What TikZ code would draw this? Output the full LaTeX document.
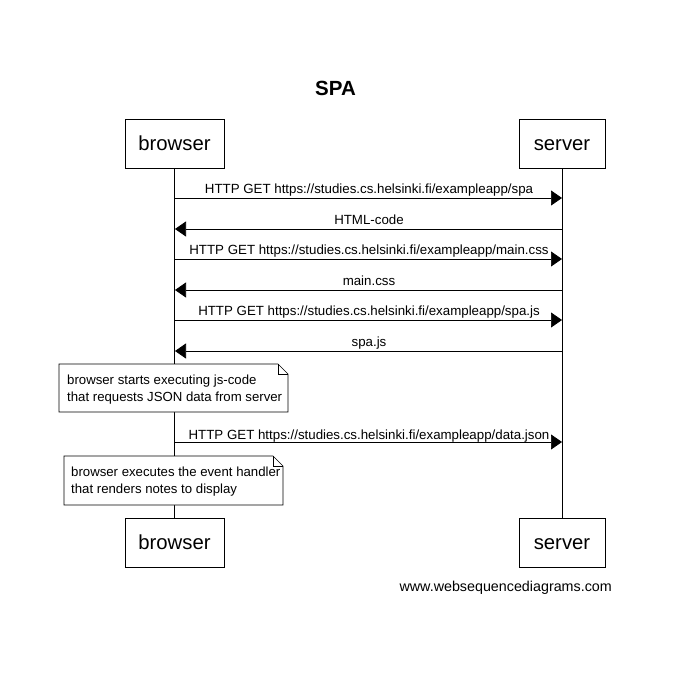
\documentclass[tikz,border=0pt]{standalone}
\usepackage{fontspec}
\setmainfont{Liberation Sans}
\usetikzlibrary{arrows.meta}
\begin{document}
\begin{tikzpicture}[x=1pt,y=-1pt,
  actor/.style={draw,line width=0.8pt,minimum width=#1,minimum height=49pt,inner sep=0pt,text height=14.5pt,text depth=1.5pt,font=\fontsize{20.3}{22}\selectfont},
  life/.style={line width=0.7pt},
  msg/.style={line width=0.7pt,-{Triangle[length=11pt,width=15pt]}},
  lbl/.style={font=\fontsize{13.3}{15}\selectfont,inner sep=0pt,anchor=base},
  notetext/.style={font=\fontsize{13.2}{17}\selectfont,align=left,inner sep=0pt,anchor=base west},
  notebox/.style={draw,line width=0.7pt,fill=white}
]
\useasboundingbox (0,0) rectangle (685,677);
\node[font=\fontsize{20.5}{22}\selectfont\bfseries,anchor=base,inner sep=0pt] (title) at (335.5,95) {SPA};
% actors
\node[actor=99pt] (bt) at (174.5,143.5) {browser};
\node[actor=86pt] (st) at (562,143.5) {server};
\node[actor=99pt] (bb) at (174.5,542.5) {browser};
\node[actor=86pt] (sb) at (562,542.5) {server};
\draw[life] (bt.south) -- (bb.north);
\draw[life] (st.south) -- (sb.north);
% message anchor coordinates
\foreach \i/\y in {1/198,2/229,3/259,4/290,5/320,6/351,7/442}{
  \coordinate (b\i) at (175,\y);
  \coordinate (s\i) at (562,\y);
}
\draw[msg] (b1) -- (s1);
\draw[msg] (s2) -- (b2);
\draw[msg] (b3) -- (s3);
\draw[msg] (s4) -- (b4);
\draw[msg] (b5) -- (s5);
\draw[msg] (s6) -- (b6);
\draw[msg] (b7) -- (s7);
\node[lbl] (l1) at (369,193) {HTTP GET https://studies.cs.helsinki.fi/exampleapp/spa};
\node[lbl] (l2) at (369,224) {HTML-code};
\node[lbl] (l3) at (369,254) {HTTP GET https://studies.cs.helsinki.fi/exampleapp/main.css};
\node[lbl] (l4) at (369,285) {main.css};
\node[lbl] (l5) at (369,315) {HTTP GET https://studies.cs.helsinki.fi/exampleapp/spa.js};
\node[lbl] (l6) at (369,346) {spa.js};
\node[lbl] (l7) at (369,439) {HTTP GET https://studies.cs.helsinki.fi/exampleapp/data.json};
% notes
\draw[notebox] (59,364) -- (278,364) -- (288,374) -- (288,412) -- (59,412) -- cycle;
\draw[line width=0.7pt] (278,364) -- (278,374) -- (288,374);
\node[notetext] (n1) at (67,401.5) {browser starts executing js-code\\that requests JSON data from server};
\draw[notebox] (64,456) -- (273,456) -- (283,466) -- (283,505) -- (64,505) -- cycle;
\draw[line width=0.7pt] (273,456) -- (273,466) -- (283,466);
\node[notetext] (n2) at (71,493.5) {browser executes the event handler\\that renders notes to display};
% footer
\node[font=\fontsize{14.3}{16}\selectfont,anchor=base east,inner sep=0pt] (foot) at (612,591) {www.websequencediagrams.com};
\end{tikzpicture}
\end{document}
